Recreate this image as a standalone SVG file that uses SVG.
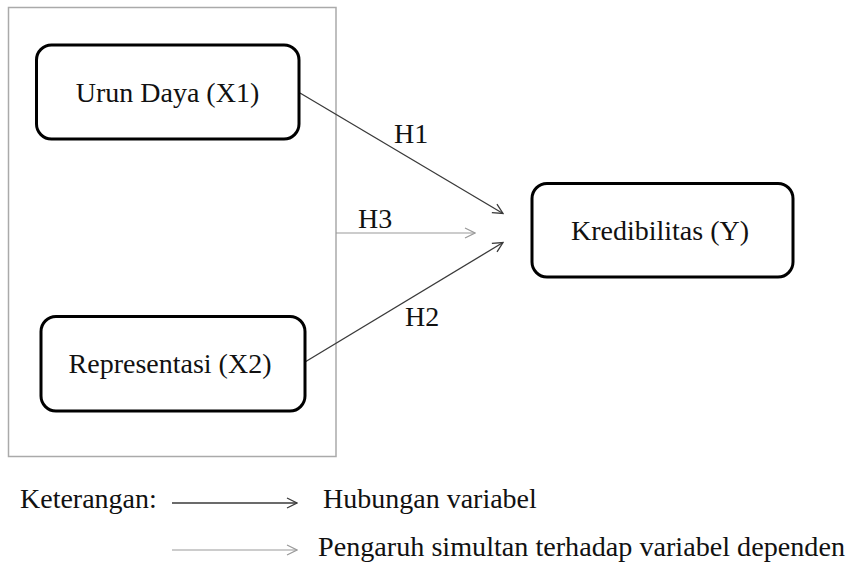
<svg xmlns="http://www.w3.org/2000/svg" width="850" height="565" viewBox="0 0 850 565">
  <style>
    .txt { font-family: "Liberation Serif", "Times New Roman", serif; font-size: 28px; fill: #111; }
    .box { fill: #fff; stroke: #000; stroke-width: 3; }
    .frame { fill: none; stroke: #aaa; stroke-width: 1.5; }
    .dark { stroke: #3a3a3a; stroke-width: 1.3; fill: none; }
    .light { stroke: #9a9a9a; stroke-width: 1.2; fill: none; }
  </style>
  <defs>
    <marker id="arrDark" viewBox="0 0 12 12" refX="11" refY="6" markerWidth="12" markerHeight="12" markerUnits="userSpaceOnUse" orient="auto">
      <path d="M1,1 L11,6 L1,11" fill="none" stroke="#3a3a3a" stroke-width="1.3"/>
    </marker>
    <marker id="arrLight" viewBox="0 0 12 12" refX="11" refY="6" markerWidth="12" markerHeight="12" markerUnits="userSpaceOnUse" orient="auto">
      <path d="M1,1 L11,6 L1,11" fill="none" stroke="#9a9a9a" stroke-width="1.2"/>
    </marker>
  </defs>
  <rect width="850" height="565" fill="#fff"/>

  <rect id="frame" class="frame" x="8.5" y="7.5" width="327.5" height="449"/>

  <g id="connectors">
    <line class="dark" x1="300" y1="93" x2="503" y2="213.5" marker-end="url(#arrDark)"/>
    <line class="light" x1="336" y1="233" x2="475" y2="233" marker-end="url(#arrLight)"/>
    <line class="dark" x1="305" y1="362" x2="503" y2="242.5" marker-end="url(#arrDark)"/>
    <text class="txt" x="394" y="143">H1</text>
    <text class="txt" x="358" y="228">H3</text>
    <text class="txt" x="405" y="326">H2</text>
  </g>

  <g id="node-x1">
    <rect class="box" x="36.5" y="45" width="262.5" height="94" rx="15"/>
    <text class="txt" x="167.5" y="102" text-anchor="middle">Urun Daya (X1)</text>
  </g>

  <g id="node-x2">
    <rect class="box" x="41" y="316.5" width="264" height="94.5" rx="15"/>
    <text class="txt" x="170" y="373" text-anchor="middle">Representasi (X2)</text>
  </g>

  <g id="node-y">
    <rect class="box" x="532" y="183.5" width="261" height="93.5" rx="15"/>
    <text class="txt" x="660" y="240" text-anchor="middle">Kredibilitas (Y)</text>
  </g>

  <g id="legend">
    <text class="txt" x="20" y="508">Keterangan:</text>
    <line class="dark" x1="172" y1="503" x2="297" y2="503" marker-end="url(#arrDark)"/>
    <text class="txt" x="323" y="508">Hubungan variabel</text>
    <line class="light" x1="172" y1="550" x2="297" y2="550" marker-end="url(#arrLight)"/>
    <text class="txt" x="318" y="556" textLength="527" lengthAdjust="spacingAndGlyphs">Pengaruh simultan terhadap variabel dependen</text>
  </g>
</svg>
